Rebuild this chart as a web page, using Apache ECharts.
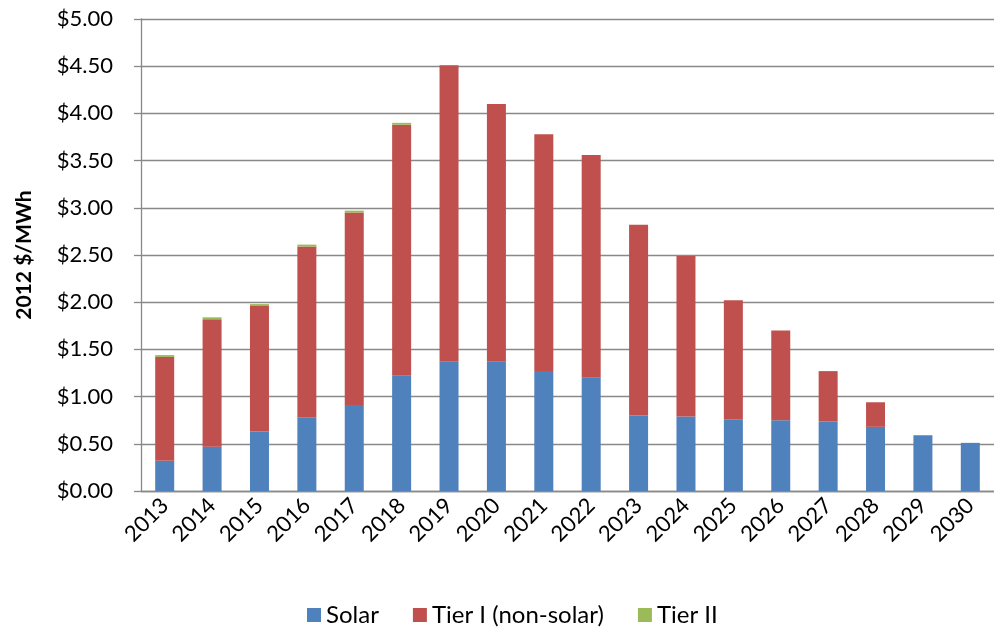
<!DOCTYPE html>
<html>
<head>
<meta charset="utf-8">
<script src="https://cdn.jsdelivr.net/npm/echarts@6/dist/echarts.min.js"></script>
<style>
  html, body { margin: 0; padding: 0; background: #fff; }
  #chart { width: 994px; height: 627px; }
</style>
</head>
<body>
<div id="chart"></div>
<script>
// data
var years = ['2013', '2014', '2015', '2016', '2017', '2018', '2019', '2020', '2021',
             '2022', '2023', '2024', '2025', '2026', '2027', '2028', '2029', '2030'];
var solar = [0.32, 0.47, 0.63, 0.78, 0.91, 1.22, 1.37, 1.37, 1.27,
             1.20, 0.80, 0.79, 0.76, 0.75, 0.74, 0.68, 0.59, 0.51];
var tier1 = [1.10, 1.35, 1.33, 1.81, 2.04, 2.66, 3.14, 2.73, 2.51,
             2.36, 2.02, 1.70, 1.26, 0.95, 0.53, 0.26, 0, 0];
var tier2 = [0.02, 0.02, 0.02, 0.02, 0.02, 0.02, 0, 0, 0,
             0, 0, 0, 0, 0, 0, 0, 0, 0];
var yTicks = { min: 0, max: 5, step: 0.5 };

var gridGrey = '#898989';
var font = 'Lato, "Open Sans", sans-serif';

var chart = echarts.init(document.getElementById('chart'));

var option = {
  animation: false,
  color: ['#4F81BD', '#C0504D', '#9BBB59'],
  grid: { left: 141, top: 19, width: 855, bottom: 136 },
  legend: {
    left: 302,
    top: 598,
    itemWidth: 14,
    itemHeight: 14,
    itemGap: 34,
    icon: 'rect',
    textStyle: { fontFamily: font, fontSize: 24, color: '#000' },
    data: ['Solar', 'Tier I (non-solar)', 'Tier II']
  },
  xAxis: {
    type: 'category',
    data: years,
    axisLine: { lineStyle: { color: gridGrey, width: 1.3 } },
    axisTick: { length: 7, lineStyle: { color: gridGrey, width: 1.3 } },
    axisLabel: {
      rotate: 45,
      margin: 11,
      fontFamily: font,
      fontSize: 22,
      color: '#000'
    }
  },
  yAxis: {
    type: 'value',
    min: yTicks.min,
    max: yTicks.max,
    interval: yTicks.step,
    name: '2012 $/MWh',
    nameLocation: 'middle',
    nameGap: 106,
    nameTextStyle: { fontFamily: font, fontSize: 21, fontWeight: 'bold', color: '#000' },
    axisLine: { show: true, lineStyle: { color: gridGrey, width: 1.3 } },
    axisTick: { show: true, length: 7, lineStyle: { color: gridGrey, width: 1.3 } },
    splitLine: { lineStyle: { color: gridGrey, width: 1.3 } },
    axisLabel: {
      margin: 28,
      fontFamily: font,
      fontSize: 22,
      color: '#000',
      formatter: function (v) { return '$' + v.toFixed(2); }
    }
  },
  series: [
    { name: 'Solar', type: 'bar', stack: 'rps', barWidth: 19, data: solar },
    { name: 'Tier I (non-solar)', type: 'bar', stack: 'rps', barWidth: 19, data: tier1 },
    { name: 'Tier II', type: 'bar', stack: 'rps', barWidth: 19, data: tier2 }
  ]
};

chart.setOption(option);
</script>
</body>
</html>
